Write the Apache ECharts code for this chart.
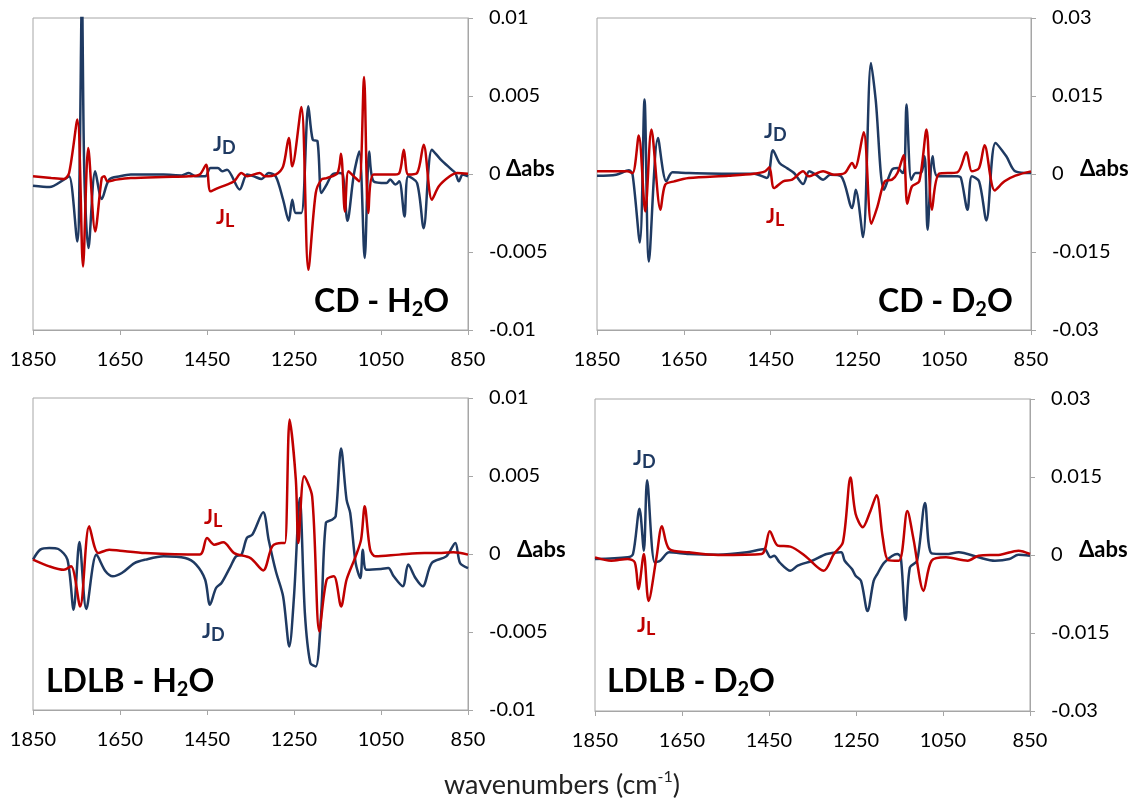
<!DOCTYPE html>
<html>
<head>
<meta charset="utf-8">
<script src="https://cdn.jsdelivr.net/npm/echarts@6/dist/echarts.min.js"></script>
<style>html,body{margin:0;padding:0;background:#fff;}#c{width:1131px;height:799px;}</style>
</head>
<body>
<div id="c"></div>
<script>
// ---- data: [wavenumber (cm-1), delta abs] ----
const cdH2O_JD = [[1850,-0.00075],[1812,-0.00083],[1779,-0.00036],[1767,-0.00015],[1748,-0.00432],[1743,0.0],[1737.5,0.0115],[1732,0.0],[1722.5,-0.00475],[1707,0.00017],[1692,-0.0016],[1675,-0.00036],[1650,-0.00015],[1625,-0.00004],[1550,-0.00004],[1508,-0.00009],[1492,0.00006],[1475,-0.00015],[1454,-0.00015],[1442,0.00039],[1425,0.00039],[1415,0.00017],[1404,0.00028],[1375,-0.001],[1358,-0.00004],[1342,-0.00015],[1325,-0.00032],[1308,0.00006],[1292,-0.00015],[1275,-0.00165],[1262,-0.003],[1254,-0.00165],[1246,-0.0025],[1233,-0.0025],[1217,0.00434],[1207,0.0022],[1196,0.0021],[1187,-0.00122],[1175,-0.00068],[1162,-0.00004],[1146,0.00006],[1137.5,-0.00004],[1127,-0.003],[1112.5,-0.00004],[1100,0.00145],[1087.5,-0.00539],[1077,0.00145],[1067,-0.00047],[1037.5,-0.00058],[1029,-0.00036],[1017,-0.00068],[1008,-0.00047],[996,-0.00272],[987.5,-0.00015],[967,-0.00058],[952,-0.00347],[933,0.00156],[912.5,0.00092],[887.5,0.00028],[879,0.00006],[871,-0.00047],[862.5,-0.00004],[850,-0.00015]];
const cdH2O_JL = [[1850,-0.00015],[1808,-0.00026],[1779,-0.00032],[1767,0.00006],[1748,0.00349],[1735,-0.00593],[1723,0.00167],[1707,-0.00368],[1692,-0.00026],[1686,-0.00015],[1679,-0.00047],[1658,-0.00036],[1625,-0.00026],[1550,-0.00019],[1492,-0.00015],[1467,-0.00004],[1452,0.0006],[1442,-0.00111],[1425,-0.0009],[1404,-0.00068],[1387.5,-0.00047],[1371,0.00006],[1358,-0.00015],[1329,0.00006],[1317,-0.00015],[1292,-0.00004],[1275,0.00049],[1262,0.00231],[1254,0.00049],[1233,0.0043],[1217,-0.00614],[1200,-0.00122],[1187,-0.00036],[1175,-0.00026],[1150,0.00006],[1142,0.0013],[1133,-0.0024],[1125,0.00017],[1112.5,-0.00015],[1100,-0.00047],[1089,0.00622],[1079,-0.0025],[1067,-0.00004],[1025,-0.00004],[1008,0.00006],[997.5,0.00156],[987.5,-0.00004],[967,0.00006],[952,0.00188],[933,-0.00165],[917,-0.00079],[892,-0.00015],[875,0.00006],[850,0.00002]];
const cdD2O_JD = [[1850,-0.00032],[1805.7,-0.00013],[1776.4,0.00071],[1768,-0.00013],[1751.3,-0.01316],[1740.5,0.01431],[1730.4,-0.01682],[1709.5,0.00693],[1690.3,-0.00141],[1676,0.00032],[1638.5,0.00019],[1546.5,0.00006],[1488,0.00006],[1458.7,-0.00077],[1444.5,0.00456],[1429.4,0.00212],[1412.7,0.00116],[1396,0.00019],[1375,-0.00193],[1360.9,0.00051],[1345.8,-0.00013],[1329,-0.00109],[1312.4,-0.00013],[1287.3,-0.00045],[1262.2,-0.00655],[1253.8,-0.00302],[1237,-0.01213],[1218.7,0.02137],[1207.9,0.01431],[1188.6,-0.00302],[1170.2,0.00083],[1157.7,0.00116],[1145.2,0.00019],[1141,0.00148],[1136.8,0.01335],[1125.9,-0.00109],[1115.9,0.00019],[1103.3,0.00019],[1095,0.0034],[1088.3,-0.01072],[1076.6,0.0034],[1065.7,-0.00045],[1019.7,-0.00045],[1011.4,-0.00077],[996.3,-0.00687],[986.3,-0.00045],[969.6,-0.00141],[952.8,-0.00892],[931.9,0.00597],[906.9,0.0034],[885.9,0.00051],[850,0.00019]];
const cdD2O_JL = [[1850,0.00051],[1780.6,0.00051],[1768,0.00019],[1753.8,0.00738],[1738.8,-0.00719],[1724.6,0.00854],[1703.7,-0.00687],[1692.8,-0.00205],[1671.9,-0.00141],[1638.5,-0.00077],[1546.5,-0.00032],[1488,0.00006],[1462.9,0.00051],[1452.8,0.00128],[1442,-0.0027],[1421.1,-0.00141],[1400.2,-0.00109],[1375,0.00051],[1362.5,-0.00045],[1329,0.00051],[1304,-0.00013],[1279,0.00019],[1262.2,0.00212],[1255.5,0.00116],[1235.5,0.00802],[1217.9,-0.00956],[1203.7,-0.00623],[1187,-0.00141],[1170.2,-0.00109],[1157.7,0.00019],[1143.5,0.00359],[1135.1,-0.00571],[1124.3,-0.00237],[1107.5,-0.00141],[1090.8,0.00854],[1078.3,-0.00687],[1061.6,0.00006],[1019.7,0.00032],[998.8,0.00417],[986.3,0.00051],[969.6,0.00116],[957,0.00552],[933.6,-0.00315],[911,-0.00141],[885.9,-0.00032],[850,0.00051]];
const ldlbH2O_JD = [[1850,-0.00036],[1833.3,0.00028],[1812.5,0.00039],[1791.7,0.00032],[1770.8,-0.00036],[1756.7,-0.00357],[1743.3,0.00077],[1727.5,-0.00353],[1704.2,-0.00004],[1683.3,-0.00111],[1666.7,-0.00143],[1645.8,-0.00122],[1616.7,-0.00058],[1591.7,-0.00036],[1550,-0.00015],[1500,-0.00026],[1475,-0.00068],[1454.2,-0.00165],[1443.3,-0.00325],[1429.2,-0.00218],[1416.7,-0.00186],[1395.8,-0.00079],[1383.3,-0.00015],[1370.8,-0.00004],[1358.3,0.00103],[1345.8,0.00124],[1320.8,0.00267],[1308.3,0.00092],[1291.7,-0.00111],[1275,-0.00272],[1260.8,-0.00593],[1250,-0.00272],[1236.7,0.00359],[1225,-0.00379],[1212.5,-0.00699],[1200,-0.00721],[1187.5,-0.00379],[1176.7,0.00199],[1162.5,0.0022],[1154.2,0.00242],[1141.7,0.00676],[1129.2,0.00349],[1120.8,0.00263],[1108.3,-0.00058],[1097.5,-0.00154],[1091.7,0.00028],[1083.3,-0.00101],[1050,-0.00096],[1033.3,-0.0009],[1020.8,-0.00143],[1000,-0.00207],[987.5,-0.00068],[970.8,-0.00154],[954.2,-0.00207],[933.3,-0.00058],[900,-0.00015],[879.2,0.00071],[868.3,-0.00058],[850,-0.0009]];
const ldlbH2O_JL = [[1850,-0.00036],[1812.5,-0.00079],[1779.2,-0.00101],[1762.5,-0.00079],[1741.7,-0.00336],[1720.8,0.00178],[1700,0.00006],[1675,0.00028],[1650,0.00021],[1591.7,0.00006],[1466.7,-0.00004],[1450,0.00103],[1433.3,0.0006],[1412.5,0.00075],[1387.5,0.00006],[1350,-0.00026],[1320.8,-0.00105],[1300,0.00049],[1279.2,0.00071],[1270.8,0.00071],[1260,0.00862],[1245.8,0.00477],[1240,0.00071],[1226.7,0.00498],[1208.3,0.0037],[1191.7,-0.00496],[1175,-0.00165],[1158.3,-0.00143],[1141.7,-0.00336],[1129.2,-0.00165],[1108.3,-0.00015],[1095.8,0.00092],[1087.5,0.00306],[1075,0.00028],[1062.5,-0.00015],[1008.3,-0.00004],[950,0.00006],[925,0.00006],[883.3,0.00011],[850,-0.00004]];
const ldlbD2O_JD = [[1850,-0.00077],[1775.1,-0.00045],[1762.6,0.00019],[1747.7,0.0089],[1737.7,0.00084],[1730.2,0.01439],[1712.7,-0.00142],[1700.2,-0.0011],[1679.5,0.00052],[1633.7,0.00019],[1567.1,0.00006],[1500.6,0.00052],[1460.7,0.00116],[1446.5,-0.00045],[1438.2,-0.00013],[1425.7,-0.00142],[1400.8,-0.00303],[1384.1,-0.00206],[1350.8,-0.0011],[1317.5,0.00019],[1284.3,0.00052],[1276,-0.0011],[1259.3,-0.00271],[1251,-0.004],[1238.5,-0.00497],[1223.5,-0.01077],[1209.4,-0.00497],[1201.1,-0.00368],[1184.5,-0.00142],[1155.3,0.00019],[1147,-0.00045],[1136.2,-0.01252],[1126.2,-0.00239],[1109.6,-0.0011],[1091.3,0.01],[1076.3,0.00032],[1043,0.00019],[1013.9,0.00052],[968.1,-0.00045],[930.7,-0.0011],[897.4,-0.00077],[876.6,0.00006],[850,-0.00013]];
const ldlbD2O_JL = [[1850,-0.00045],[1812.6,-0.0011],[1775.1,-0.00077],[1758.5,-0.00142],[1750.2,-0.00658],[1737.7,0.00019],[1726.9,-0.00884],[1708.6,-0.00045],[1696.1,0.00555],[1679.5,0.00116],[1633.7,0.00052],[1567.1,0],[1467.3,0.00019],[1448.2,0.00458],[1429.9,0.00181],[1400.8,0.00161],[1367.5,-0.00013],[1324.2,-0.00303],[1300.9,0.00019],[1280.1,0.00245],[1262.6,0.0149],[1251,0.00794],[1234.4,0.00535],[1217.7,0.00826],[1202.7,0.01148],[1188.6,0.00342],[1176.1,-0.00097],[1151.2,-0.0011],[1132,0.00845],[1117.9,0.0031],[1094.6,-0.0069],[1076.3,-0.0011],[1043,-0.00045],[993.1,-0.0011],[968.1,-0.00013],[918.2,0.00006],[876.6,0.00084],[850,0.00019]];

const xTicks = [1850, 1650, 1450, 1250, 1050, 850];
const yTicksH2O = [-0.01, -0.005, 0, 0.005, 0.01];
const yTicksD2O = [-0.03, -0.015, 0, 0.015, 0.03];
const panelTitles = [['CD - H','2','O'], ['CD - D','2','O'], ['LDLB - H','2','O'], ['LDLB - D','2','O']];

// ---- styling ----
const FONT = 'Lato';
const BLUE = '#1f3a62', RED = '#c00000', AX = '#a6a6a6';
const grids = [
  {left: 33, top: 18, width: 435, height: 312},
  {left: 597, top: 18, width: 434, height: 312},
  {left: 33, top: 398, width: 435, height: 312},
  {left: 595, top: 399, width: 435, height: 312}
].map(g => Object.assign(g, {show: true, borderColor: AX, borderWidth: 1, containLabel: false}));

const xAxes = grids.map((g, i) => ({
  type: 'value', gridIndex: i, min: xTicks[xTicks.length - 1], max: xTicks[0], interval: 200, inverse: true,
  axisLine: {show: true, onZero: false, lineStyle: {color: AX, width: 1}},
  axisTick: {show: true, length: 5, lineStyle: {color: AX}},
  axisLabel: {margin: 20, fontSize: 20, color: '#000', fontFamily: FONT, formatter: v => String(v)},
  splitLine: {show: false}
}));
const yAxes = grids.map((g, i) => {
  const t = (i % 2 === 0) ? yTicksH2O : yTicksD2O;
  return {
    type: 'value', gridIndex: i, position: 'right', min: t[0], max: t[t.length - 1], interval: t[1] - t[0],
    axisLine: {show: true, onZero: false, lineStyle: {color: AX, width: 1}},
    axisTick: {show: true, length: 5, lineStyle: {color: AX}},
    axisLabel: {margin: 21, fontSize: 20, color: '#000', fontFamily: FONT,
      formatter: v => String(parseFloat(Number(v).toPrecision(6)))},
    splitLine: {show: false}
  };
});

const sets = [[cdH2O_JD, cdH2O_JL], [cdD2O_JD, cdD2O_JL], [ldlbH2O_JD, ldlbH2O_JL], [ldlbD2O_JD, ldlbD2O_JL]];
const series = [];
sets.forEach((pair, i) => {
  [[pair[0], BLUE, 'J_D'], [pair[1], RED, 'J_L']].forEach(([d, c, n]) => {
    series.push({type: 'line', name: n, xAxisIndex: i, yAxisIndex: i, data: d, showSymbol: false, symbol: 'none',
      smooth: 0.3, clip: true, lineStyle: {color: c, width: 2.5}, itemStyle: {color: c}, animation: false, z: n === 'J_L' ? 3 : 2});
  });
});

const big = {fontSize: 32, fontWeight: 'bold', fontFamily: FONT, fill: '#000', lineHeight: 36};
const bigSub = {fontSize: 20, fontWeight: 'bold', fontFamily: FONT, fill: '#000', lineHeight: 10, verticalAlign: 'bottom'};
function rt(x, y, text, rich, align) {
  return {type: 'text', x: x, y: y, z: 10, silent: true,
    style: {text: text, rich: rich, align: align || 'left', textAlign: align || 'left', verticalAlign: 'middle', textVerticalAlign: 'middle'}};
}
function jLabel(x, y, sub, color) {
  return rt(x, y, '{j|J}{d|' + sub + '}', {
    j: {fontSize: 21, fontWeight: 'bold', fontFamily: FONT, fill: color, lineHeight: 26},
    d: {fontSize: 18, fontWeight: 'bold', fontFamily: FONT, fill: color, lineHeight: 8, verticalAlign: 'bottom'}
  });
}
function title(x, y, parts) {
  return rt(x, y, '{a|' + parts[0] + '}{s|' + parts[1] + '}{a|' + parts[2] + '}', {a: big, s: bigSub});
}
function dabs(x, y) {
  return {type: 'text', x: x, y: y, z: 10, silent: true,
    style: {text: '\u0394abs', fontSize: 22, fontWeight: 'bold', fontFamily: FONT, fill: '#000', align: 'left', textAlign: 'left', verticalAlign: 'middle', textVerticalAlign: 'middle'}};
}

const graphic = [
  title(314, 302, panelTitles[0]), title(878, 302, panelTitles[1]),
  title(46, 682, panelTitles[2]), title(607, 682, panelTitles[3]),
  jLabel(213, 144, 'D', BLUE), jLabel(216, 217, 'L', RED),
  jLabel(764, 131, 'D', BLUE), jLabel(766, 216, 'L', RED),
  jLabel(204, 517, 'L', RED), jLabel(202, 631, 'D', BLUE),
  jLabel(633, 458, 'D', BLUE), jLabel(637, 625, 'L', RED),
  dabs(506, 169), dabs(1080, 169), dabs(517, 550), dabs(1079, 550),
  rt(562, 785, '{a|wavenumbers (cm}{s|-1}{a|)}', {
    a: {fontSize: 27, fontFamily: FONT, fill: '#222', lineHeight: 32},
    s: {fontSize: 16, fontFamily: FONT, fill: '#222', lineHeight: 12, verticalAlign: 'top'}
  }, 'center')
];

const chart = echarts.init(document.getElementById('c'), null, {renderer: 'canvas'});
chart.setOption({
  animation: false,
  backgroundColor: '#fff',
  grid: grids, xAxis: xAxes, yAxis: yAxes, series: series, graphic: graphic
});
</script>
</body>
</html>
